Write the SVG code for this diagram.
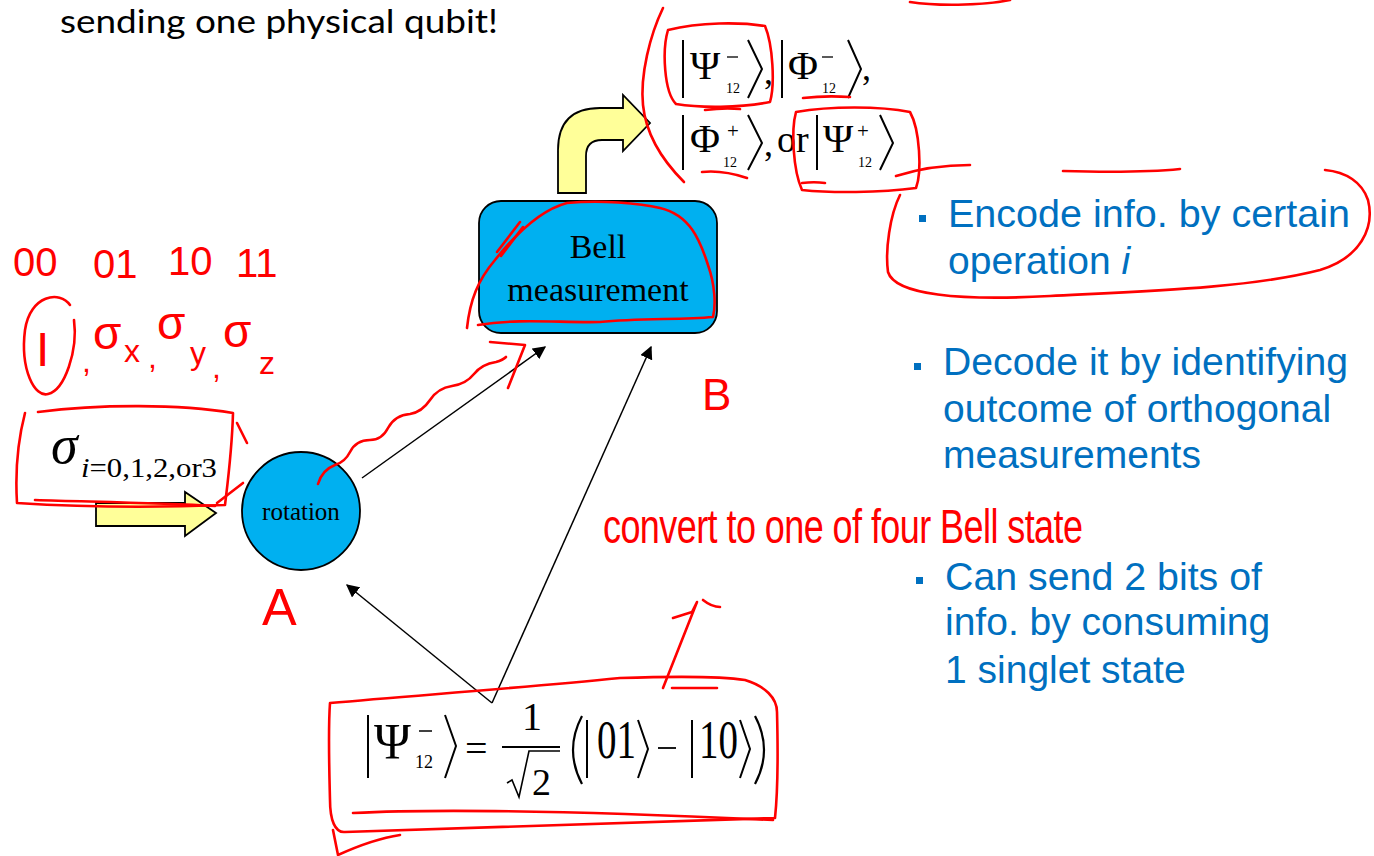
<svg xmlns="http://www.w3.org/2000/svg" width="1374" height="856" viewBox="0 0 1374 856">
<defs>
<marker id="ah" viewBox="0 0 10 10" refX="9" refY="5" markerWidth="13" markerHeight="13" markerUnits="userSpaceOnUse" orient="auto">
<path d="M0,0 L10,5 L0,10 Z" fill="#000"/>
</marker>
</defs>
<style>
.serif{font-family:"Liberation Serif","Times New Roman",serif;fill:#000}
.blue{font-family:"Liberation Sans",Arial,sans-serif;fill:#0070C0;font-size:39px}
.delim{fill:none;stroke:#000;stroke-width:2;stroke-linejoin:miter}
.conn{fill:none;stroke:#000;stroke-width:1.5}
.yel{fill:#FFFF99;stroke:#000;stroke-width:1.8;stroke-linejoin:miter}
.ink{fill:none;stroke:#FF0000;stroke-width:2.6;stroke-linecap:round;stroke-linejoin:round}
.hand{font-family:"Liberation Sans",Arial,sans-serif;fill:#FF0000}
</style>
<rect width="1374" height="856" fill="#fff"/>

<text x="60" y="33" font-family="Lato, Noto Sans, sans-serif" font-size="33" fill="#000" textLength="438" lengthAdjust="spacingAndGlyphs">sending one physical qubit!</text>

<g id="connectors">
<line class="conn" x1="362" y1="478" x2="545" y2="347" marker-end="url(#ah)"/>
<line class="conn" x1="492" y1="703" x2="651" y2="347" marker-end="url(#ah)"/>
<line class="conn" x1="492" y1="703" x2="347" y2="585" marker-end="url(#ah)"/>
<path class="yel" d="M558,193 L558,150 Q558,108 600,108 L623,108 L623,95 L650,123 L623,151 L623,140 L602,140 Q586,140 586,156 L586,193 Z"/>
<path class="yel" d="M96,503 L185,503 L185,492 L216,513 L185,536 L185,526 L96,526 Z"/>
</g>

<g id="node-bell">
<rect x="479" y="201" width="238" height="132" rx="22" fill="#00B0F0" stroke="#000" stroke-width="1.8"/>
<text class="serif" x="598" y="258" font-size="34" text-anchor="middle">Bell</text>
<text class="serif" x="598" y="301" font-size="34" text-anchor="middle">measurement</text>
</g>

<g id="node-rotation">
<circle cx="301" cy="511" r="59" fill="#00B0F0" stroke="#000" stroke-width="1.8"/>
<text class="serif" x="301" y="520" font-size="25" text-anchor="middle">rotation</text>
</g>

<g id="node-sigma">
<text class="serif" x="51" y="463" font-size="54" font-style="italic">σ</text>
<text class="serif" x="81" y="477" font-size="28" textLength="136" lengthAdjust="spacingAndGlyphs"><tspan font-style="italic">i</tspan>=0,1,2,or3</text>
</g>

<g id="node-states">
<path class="delim" d="M683,40 V98 M748,40 L762,69 L748,98 M782,40 V98 M848,40 L861,69 L848,98"/>
<text class="serif" x="690" y="79" font-size="41">Ψ</text>
<line x1="727" y1="57" x2="738" y2="57" stroke="#000" stroke-width="1.3"/>
<text class="serif" x="726" y="93" font-size="14">12</text>
<text class="serif" x="764" y="84" font-size="36">,</text>
<text class="serif" x="788" y="79" font-size="41">Φ</text>
<line x1="822" y1="57" x2="833" y2="57" stroke="#000" stroke-width="1.3"/>
<text class="serif" x="822" y="93" font-size="14">12</text>
<text class="serif" x="862" y="80" font-size="36">,</text>
<path class="delim" d="M683,115 V170 M748,115 L762,143 L748,170 M817,115 V170 M880,115 L893,143 L880,170"/>
<text class="serif" x="690" y="152" font-size="41">Φ</text>
<text class="serif" x="727" y="138" font-size="21">+</text>
<text class="serif" x="723" y="167" font-size="14">12</text>
<text class="serif" x="764" y="156" font-size="36">,</text>
<text class="serif" x="777" y="152" font-size="38">or</text>
<text class="serif" x="823" y="152" font-size="41">Ψ</text>
<text class="serif" x="857" y="138" font-size="21">+</text>
<text class="serif" x="858" y="167" font-size="14">12</text>
</g>

<g id="node-formula">
<path class="delim" d="M368,715 V778 M445,715 L456,746 L445,778"/>
<text class="serif" x="374" y="758" font-size="50">Ψ</text>
<line x1="419" y1="731" x2="432" y2="731" stroke="#000" stroke-width="1.5"/>
<text class="serif" x="415" y="768" font-size="18">12</text>
<text class="serif" x="465" y="762" font-size="40">=</text>
<text class="serif" x="522" y="730" font-size="40">1</text>
<line x1="502" y1="747" x2="560" y2="747" stroke="#000" stroke-width="2"/>
<path d="M507,783 L512,780 L519,797 L529,751 L560,751" fill="none" stroke="#000" stroke-width="1.6"/>
<text class="serif" x="532" y="795" font-size="38">2</text>
<path d="M582,716 Q564,750 582,784 M755,716 Q773,750 755,784" fill="none" stroke="#000" stroke-width="2.2"/>
<path class="delim" d="M587,720 V778 M638,720 L648,749 L638,778 M692,720 V778 M740,720 L750,749 L740,778"/>
<text class="serif" transform="translate(597,758) scale(1,1.4)" font-size="39">01</text>
<line x1="658" y1="748" x2="676" y2="748" stroke="#000" stroke-width="1.8"/>
<text class="serif" transform="translate(699,758) scale(1,1.4)" font-size="39">10</text>
</g>

<g id="bullets">
<rect x="919" y="215" width="7" height="7" fill="#0070C0"/>
<text class="blue" x="948" y="227" textLength="402" lengthAdjust="spacingAndGlyphs">Encode info. by certain</text>
<text class="blue" x="948" y="274">operation <tspan font-style="italic">i</tspan></text>
<rect x="914" y="363" width="7" height="7" fill="#0070C0"/>
<text class="blue" x="943" y="375" textLength="405" lengthAdjust="spacingAndGlyphs">Decode it by identifying</text>
<text class="blue" x="943" y="422">outcome of orthogonal</text>
<text class="blue" x="943" y="468">measurements</text>
<rect x="916" y="577" width="7" height="7" fill="#0070C0"/>
<text class="blue" x="945" y="590" textLength="317" lengthAdjust="spacingAndGlyphs">Can send 2 bits of</text>
<text class="blue" x="945" y="635">info. by consuming</text>
<text class="blue" x="945" y="683">1 singlet state</text>
</g>

<g id="annotations">
<path class="ink" d="M910,2 C935,6 980,6 1010,0"/>
<path class="ink" d="M663,8 C650,35 640,75 643,105 C646,135 662,160 684,182"/>
<path class="ink" d="M668,30 C700,22 740,22 765,26 C773,45 775,85 770,102 C740,108 700,108 676,104 C664,92 662,50 668,30 Z"/>
<path class="ink" d="M705,110 C720,108 730,108 740,109"/>
<path class="ink" d="M803,98 C820,96 835,96 850,97"/>
<path class="ink" d="M702,172 C720,170 735,174 747,178"/>
<path class="ink" d="M796,112 C830,106 880,106 910,112 C920,130 922,172 916,188 C880,193 830,193 802,190 C793,170 791,130 796,112 Z"/>
<path class="ink" d="M802,183 C810,182 818,182 825,183"/>
<path class="ink" d="M896,176 C915,170 940,165 970,165"/>
<path class="ink" d="M900,195 C890,215 885,250 888,272 C895,295 960,301 1050,296 C1150,291 1250,288 1320,270 C1360,258 1375,228 1368,200 C1362,182 1346,172 1325,170"/>
<path class="ink" d="M1063,171 C1100,172 1150,172 1180,169"/>
<path class="ink" d="M467,328 C470,300 478,280 495,260 C515,235 540,210 567,203 C600,200 640,203 660,208 C690,215 700,240 708,265 C715,285 716,305 713,317 C680,320 640,318 600,322 C560,323 520,318 478,325"/>
<path class="ink" d="M497,252 L520,222 M501,256 L523,227"/>
<path class="ink" d="M318,484 Q322,470 335,465 Q345,462 350,452 Q356,440 370,440 Q382,440 388,428 Q395,415 410,414 Q422,412 430,400 Q438,388 452,386 Q466,384 474,374 Q482,364 496,362 Q503,360 506,357"/>
<path class="ink" d="M490,342 L525,345 L508,388"/>
<path class="ink" d="M38,412 C100,404 180,404 233,413 C232,450 228,480 225,505 C150,508 80,507 17,503 C15,470 18,440 25,413"/>
<path class="ink" d="M237,423 L247,443 M217,503 L243,483 M35,500 C100,502 160,503 215,506"/>
<path class="ink" d="M70,305 C60,290 30,295 25,330 C20,370 35,398 48,394 C65,390 78,350 74,320"/>
<path class="ink" d="M330,703 C420,695 520,688 620,678 C680,676 720,676 745,680 C765,686 777,698 777,712 C778,750 778,790 775,818 C650,822 500,826 345,832 C335,833 330,820 330,800 C329,760 328,730 330,703 Z"/>
<path class="ink" d="M353,813 C450,808 600,812 773,820"/>
<path class="ink" d="M333,830 L338,855 C360,845 380,838 400,835"/>
<path class="ink" d="M663,688 L697,602 M673,618 L692,612 L697,602 M703,600 C708,604 714,607 720,607 M672,688 L717,688"/>
<text class="hand" x="13" y="276" font-size="40">00</text>
<text class="hand" x="93" y="278" font-size="40">01</text>
<text class="hand" x="168" y="275" font-size="40">10</text>
<text class="hand" x="236" y="277" font-size="40">11</text>
<text class="hand" x="36" y="366" font-size="48">I</text>
<text class="hand" x="82" y="372" font-size="32">,</text>
<text class="hand" x="93" y="349" font-size="46">σ</text>
<text class="hand" x="124" y="362" font-size="32">x</text>
<text class="hand" x="148" y="368" font-size="32">,</text>
<text class="hand" x="157" y="339" font-size="46">σ</text>
<text class="hand" x="190" y="364" font-size="32">y</text>
<text class="hand" x="212" y="378" font-size="32">,</text>
<text class="hand" x="223" y="347" font-size="46">σ</text>
<text class="hand" x="259" y="374" font-size="32">z</text>
<text class="hand" x="262" y="625" font-size="52">A</text>
<text class="hand" x="702" y="410" font-size="44">B</text>
<text class="hand" transform="translate(603,543) scale(1,1.35)" font-size="36" textLength="480" lengthAdjust="spacing">convert to one of four Bell state</text>
</g>
</svg>
